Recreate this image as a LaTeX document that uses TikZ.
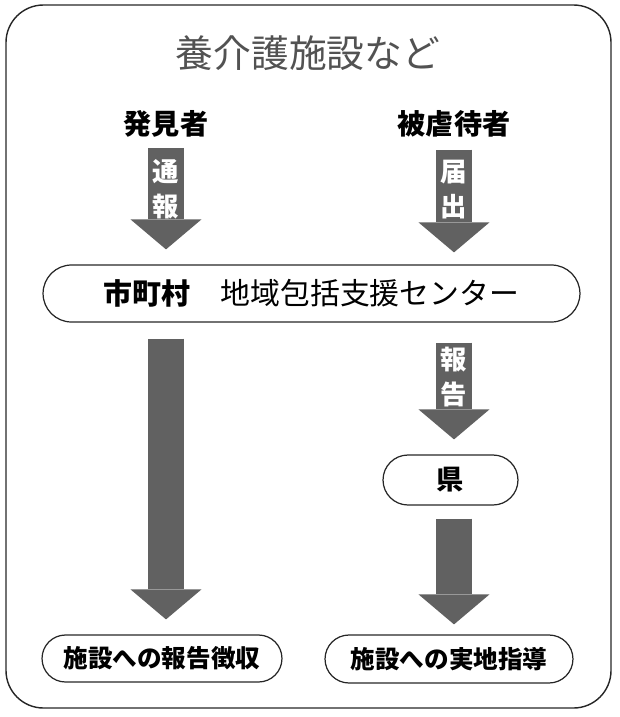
\documentclass[tikz,border=0pt]{standalone}
\usepackage{fontspec}
\setmainfont{Noto Sans CJK JP}
\usetikzlibrary{arrows.meta}
\tikzset{>=latex}

\begin{document}
\begin{tikzpicture}[x=0.02cm, y=-0.02cm,
    every node/.style={inner sep=0pt},
    pill/.style={draw=black!85, line width=0.7pt, rounded corners=#1},
    bigarrow/.style={draw=black!62, line width=0.72cm,
        -{Triangle[length=0.6cm, width=1.42cm, line width=0pt]}},
    arrowlabel/.style={text=white, align=center, font=\fontsize{15}{20}\selectfont\bfseries}]
    \useasboundingbox (0,0) rectangle (619,717);
    \draw [black!85, line width=0.8pt, rounded corners=0.75cm] (6,5) rectangle (611,708);
    \node [text=black!68, font=\fontsize{21.5}{24}\selectfont] (title) at (308,53) {養介護施設など};
    \node [font=\fontsize{16}{18}\selectfont\bfseries] (finder) at (166,124) {発見者};
    \node [font=\fontsize{16}{18}\selectfont\bfseries] (victim) at (454,124) {被虐待者};
    \node [pill=0.57cm, minimum width=10.74cm, minimum height=1.14cm,
        font=\fontsize{17}{20}\selectfont] (center) at (311.5,293.5)
        {{\fontsize{16.5}{20}\selectfont\bfseries 市町村}\quad 地域包括支援センター};
    \node [pill=0.5cm, minimum width=2.7cm, minimum height=1cm,
        font=\fontsize{15.5}{18}\selectfont\bfseries] (pref) at (450.5,480) {県};
    \node [pill=0.47cm, minimum width=4.8cm, minimum height=0.94cm,
        font=\fontsize{14}{16}\selectfont\bfseries] (report) at (162,658.5) {施設への報告徴収};
    \node [pill=0.48cm, minimum width=4.96cm, minimum height=0.96cm,
        font=\fontsize{14}{16}\selectfont\bfseries] (guide) at (449,659) {施設への実地指導};
    \draw [bigarrow, shorten <=0.2cm, shorten >=0.3cm] (finder.south) -- (finder.south |- center.north)
        node [arrowlabel, pos=0.41] (tsuho) {通\\報};
    \draw [bigarrow, shorten <=0.24cm, shorten >=0.24cm] (victim.south) -- (victim.south |- center.north)
        node [arrowlabel, pos=0.41] (todoke) {届\\出};
    \draw [bigarrow, shorten <=0.32cm, shorten >=0.3cm] (finder |- center.south) -- (finder |- report.north);
    \draw [bigarrow, shorten <=0.4cm, shorten >=0.3cm] (victim |- center.south) -- (victim |- pref.north)
        node [arrowlabel, pos=0.41] (hokoku) {報\\告};
    \draw [bigarrow, shorten <=0.26cm, shorten >=0.2cm] (victim |- pref.south) -- (victim |- guide.north);
\end{tikzpicture}
\end{document}
